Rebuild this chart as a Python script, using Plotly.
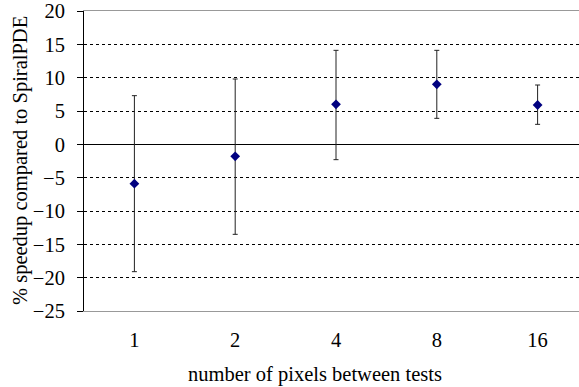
import plotly.graph_objects as go

categories = ["1", "2", "4", "8", "16"]
speedup = [-5.9, -1.8, 6.0, 9.0, 5.9]
err_plus = [13.2, 11.6, 8.1, 5.1, 3.0]
err_minus = [13.2, 11.7, 8.3, 5.1, 2.9]

y_ticks = [20, 15, 10, 5, 0, -5, -10, -15, -20, -25]
x_title = "number of pixels between tests"
y_title = "% speedup compared to SpiralPDE"

FONT = "Liberation Serif"

fig = go.Figure()
fig.add_trace(go.Scatter(
    x=categories, y=speedup, mode="markers",
    marker=dict(symbol="diamond", color="#000080", size=7.5),
    error_y=dict(type="data", symmetric=False, array=err_plus, arrayminus=err_minus,
                 color="#222222", thickness=1, width=2.5),
    showlegend=False,
))

fig.update_layout(
    width=588, height=387,
    margin=dict(l=83.5, r=0, t=11, b=76),
    paper_bgcolor="white", plot_bgcolor="white",
    font=dict(family=FONT, size=20.5, color="black"),
    xaxis=dict(type="category", range=[-0.5, 4.5], showgrid=False,
               showline=True, mirror=True, linecolor="#999999", linewidth=1,
               ticks="", ticklabelstandoff=10, zeroline=False),
    yaxis=dict(range=[-25, 20], tickvals=y_ticks, showgrid=True, gridcolor="black",
               griddash="dot", gridwidth=1, zeroline=True, zerolinecolor="black",
               zerolinewidth=1, showline=True, linecolor="black", linewidth=1,
               ticks="outside", ticklen=6, tickcolor="black", ticklabelstandoff=8),
    annotations=[
        dict(text=x_title, xref="paper", yref="paper", x=0.4579, y=-0.213,
             xanchor="center", yanchor="middle", showarrow=False,
             font=dict(family=FONT, size=20.5)),
        dict(text=y_title, xref="paper", yref="paper", x=-0.1259, y=0.5017,
             xanchor="center", yanchor="middle", textangle=-90, showarrow=False,
             font=dict(family=FONT, size=20.5)),
    ],
)

fig.write_html("out.html", config={"displayModeBar": False},
               post_script="document.body.style.margin='0';")
